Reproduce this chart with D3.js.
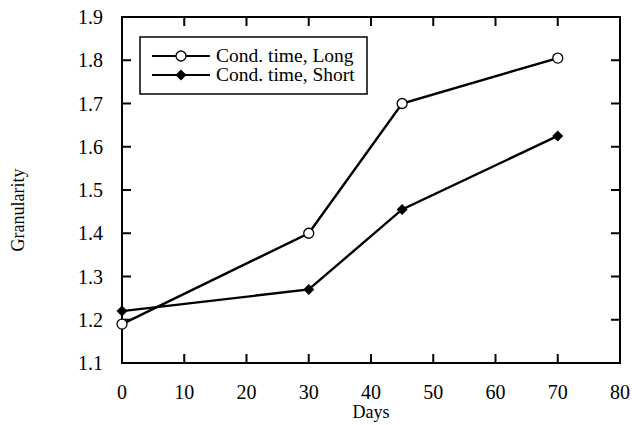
<!DOCTYPE html>
<html>
<head>
<meta charset="utf-8">
<script src="https://cdn.jsdelivr.net/npm/d3@7"></script>
<style>
  body { margin: 0; background: #fff; }
  svg text { font-family: "Liberation Serif", "Times New Roman", serif; fill: #000; }
</style>
</head>
<body>
<div id="chart"></div>
<script>
var days = [0, 30, 45, 70];
var longValues = [1.19, 1.40, 1.70, 1.805];
var shortValues = [1.22, 1.27, 1.455, 1.625];
var seriesNames = ["Cond. time, Long", "Cond. time, Short"];
var xTicks = [0, 10, 20, 30, 40, 50, 60, 70, 80];
var yTicks = [1.1, 1.2, 1.3, 1.4, 1.5, 1.6, 1.7, 1.8, 1.9];

var W = 632, H = 425;
var mLeft = 122, mRight = 620, mTop = 17, mBottom = 363;

var svg = d3.select("#chart").append("svg").attr("width", W).attr("height", H);

var x = d3.scaleLinear().domain([0, 80]).range([mLeft, mRight]);
var y = d3.scaleLinear().domain([1.1, 1.9]).range([mBottom, mTop]);

var tickLen = 9;
var axisColor = "#000";

// frame
svg.append("rect").attr("x", mLeft).attr("y", mTop).attr("width", mRight - mLeft).attr("height", mBottom - mTop)
    .attr("fill", "none").attr("stroke", axisColor).attr("stroke-width", 2);

// x ticks, bottom and top, inward
xTicks.forEach(function(t) {
    if (t === 0 || t === 80) return;
    svg.append("line").attr("x1", x(t)).attr("x2", x(t)).attr("y1", mBottom).attr("y2", mBottom - tickLen).attr("stroke", axisColor).attr("stroke-width", 2);
    svg.append("line").attr("x1", x(t)).attr("x2", x(t)).attr("y1", mTop).attr("y2", mTop + tickLen).attr("stroke", axisColor).attr("stroke-width", 2);
});
xTicks.forEach(function(t) {
    svg.append("text").attr("x", x(t)).attr("y", mBottom + 36).attr("text-anchor", "middle").attr("font-size", 20).text(t);
});

// y ticks, left and right, inward
yTicks.forEach(function(t) {
    if (t !== 1.1 && t !== 1.9) {
        svg.append("line").attr("x1", mLeft).attr("x2", mLeft + tickLen).attr("y1", y(t)).attr("y2", y(t)).attr("stroke", axisColor).attr("stroke-width", 2);
        svg.append("line").attr("x1", mRight).attr("x2", mRight - tickLen).attr("y1", y(t)).attr("y2", y(t)).attr("stroke", axisColor).attr("stroke-width", 2);
    }
    svg.append("text").attr("x", mLeft - 19).attr("y", y(t) + 7).attr("text-anchor", "end").attr("font-size", 20).text(t.toFixed(1));
});

svg.append("text").attr("x", (mLeft + mRight) / 2).attr("y", 418).attr("text-anchor", "middle").attr("font-size", 18).text("Days");
svg.append("text").attr("transform", "translate(24," + ((mTop + mBottom) / 2 + 20) + ") rotate(-90)")
    .attr("text-anchor", "middle").attr("font-size", 18).text("Granularity");

// series
var line = d3.line().x(function(d) { return x(d[0]); }).y(function(d) { return y(d[1]); });
var longData = days.map(function(d, i) { return [d, longValues[i]]; });
var shortData = days.map(function(d, i) { return [d, shortValues[i]]; });

svg.append("path").datum(longData).attr("fill", "none").attr("stroke", "#000").attr("stroke-width", 2.4).attr("d", line);
svg.append("path").datum(shortData).attr("fill", "none").attr("stroke", "#000").attr("stroke-width", 2.4).attr("d", line);

function drawCircle(cx, cy) {
    svg.append("circle").attr("cx", cx).attr("cy", cy).attr("r", 5).attr("fill", "#fff").attr("stroke", "#000").attr("stroke-width", 1.3);
}
function drawDiamond(cx, cy) {
    var s = 5.5;
    svg.append("path").attr("d", "M0," + (-s) + "L" + s + ",0L0," + s + "L" + (-s) + ",0Z")
        .attr("transform", "translate(" + cx + "," + cy + ")").attr("fill", "#000");
}

longData.forEach(function(d) { drawCircle(x(d[0]), y(d[1])); });
shortData.forEach(function(d) { drawDiamond(x(d[0]), y(d[1])); });

// legend
svg.append("rect").attr("x", 140).attr("y", 37).attr("width", 227).attr("height", 57)
    .attr("fill", "#fff").attr("stroke", "#000").attr("stroke-width", 1.5);
var rows = [56, 75];
rows.forEach(function(ry, i) {
    svg.append("line").attr("x1", 152).attr("x2", 210).attr("y1", ry).attr("y2", ry).attr("stroke", "#000").attr("stroke-width", 2);
    if (i === 0) drawCircle(181, ry); else drawDiamond(181, ry);
    svg.append("text").attr("x", 216).attr("y", ry + 6).attr("font-size", 19.5).text(seriesNames[i]);
});
</script>
</body>
</html>
